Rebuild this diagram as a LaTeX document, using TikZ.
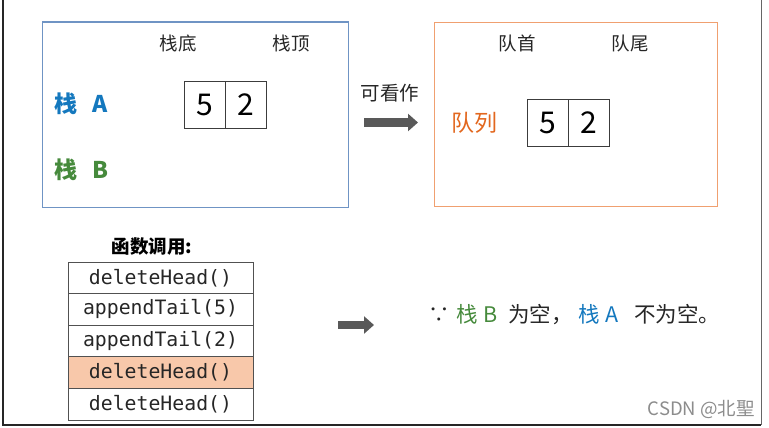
\documentclass[tikz,border=0pt]{standalone}
\usepackage{fontspec}
\setmainfont{Noto Sans CJK SC}
\newfontfamily\cjk{Noto Sans CJK SC}
\newfontfamily\monof{DejaVu Sans Mono}
\usetikzlibrary{arrows.meta}
\definecolor{boxblue}{HTML}{6F94C4}
\definecolor{txtblue}{HTML}{1478BE}
\definecolor{txtgreen}{HTML}{468A3C}
\definecolor{boxorange}{HTML}{F0A070}
\definecolor{txtorange}{HTML}{E2671E}
\definecolor{rowfill}{HTML}{F8C8AA}
\definecolor{txtdark}{HTML}{262626}
\definecolor{arrowgray}{HTML}{595959}
\tikzset{
  panelblue/.style={draw=boxblue, line width=1.2pt},
  panelorange/.style={draw=boxorange, line width=1.2pt},
  label/.style={font=\cjk\fontsize{18.5}{18.5}\selectfont, text=txtdark, inner sep=0pt},
  cell/.style={draw=txtdark!90, line width=0.9pt, minimum width=41pt, minimum height=47pt, inner sep=0pt, font=\cjk\fontsize{30}{30}\selectfont, text=black},
  row/.style={draw=txtdark!80, line width=0.9pt, minimum width=185pt, minimum height=31.6pt, inner sep=0pt, font=\monof\fontsize{19.8}{19.8}\selectfont, text=txtdark},
  bigarrow/.style={draw=arrowgray, line width=8.5pt, -{Triangle[length=10pt,width=17pt]}},
}
\begin{document}
\begin{tikzpicture}[x=1pt,y=-1pt]
\useasboundingbox (0,0) rectangle (769,428);
% outer frame
\draw[line width=2pt, black!85] (2.5,0) -- (2.5,425) -- (761,425);
\draw[line width=1pt, black!60] (761,0) -- (761,425);

% stack panel
\node[panelblue, minimum width=306pt, minimum height=185pt, anchor=north west] (stackpanel) at (41.5,21.5) {};
\node[label] (sbottom) at (178,43) {栈底};
\node[label] (stop) at (291,43) {栈顶};
\node[inner sep=0pt, font=\cjk\fontsize{23}{23}\selectfont\bfseries, text=txtblue] (stackA) at (81,104) {栈\hspace{15pt}A};
\node[inner sep=0pt, font=\cjk\fontsize{23}{23}\selectfont\bfseries, text=txtgreen] (stackB) at (81,170) {栈\hspace{15pt}B};
\node[cell] (sa5) at (204.5,104.5) {5};
\node[cell] (sa2) at (245.5,104.5) {2};

% queue panel
\node[panelorange, minimum width=283pt, minimum height=184pt, anchor=north west] (queuepanel) at (433.5,22) {};
\node[label] (qhead) at (517,43) {队首};
\node[label] (qtail) at (630,43) {队尾};
\node[inner sep=0pt, font=\cjk\fontsize{23}{23}\selectfont, text=txtorange] (queue) at (474,123) {队列};
\node[cell] (q5) at (547.5,123) {5};
\node[cell] (q2) at (588.5,123) {2};

% top arrow
\node[inner sep=0pt, font=\cjk\fontsize{19.5}{19.5}\selectfont, text=txtdark] (seeas) at (390,93) {可看作};
\coordinate (a1s) at (364,122.5);
\coordinate (a1e) at (418,122.5);
\draw[bigarrow] (a1s) -- (a1e);

% function calls
\node[inner sep=0pt, font=\cjk\fontsize{18.5}{18.5}\selectfont\bfseries, text=black] (ftitle) at (152,247) {函数调用:};
\node[row] (r1) at (160.5,277.8) {deleteHead()};
\node[row] (r2) at (160.5,309.4) {appendTail(5)};
\node[row] (r3) at (160.5,341.0) {appendTail(2)};
\node[row, fill=rowfill] (r4) at (160.5,372.6) {deleteHead()};
\node[row] (r5) at (160.5,404.2) {deleteHead()};

% bottom arrow
\coordinate (a2s) at (338,325);
\coordinate (a2e) at (374,325);
\draw[bigarrow] (a2s) -- (a2e);

\node[inner sep=0pt, anchor=west, font=\cjk\fontsize{21.5}{21.5}\selectfont, text=txtdark] (reason) at (428,315)
  {∵\hspace{7pt}\textcolor{txtgreen}{栈\hspace{5pt}B}\hspace{11pt}为空，\hspace{6pt}\textcolor{txtblue}{栈\hspace{5pt}A}\hspace{16pt}不为空。};

\node[inner sep=0pt, anchor=east, font=\cjk\fontsize{18.5}{18.5}\selectfont, text=black!45] (wm) at (755,409) {CSDN @北聖};
\end{tikzpicture}
\end{document}
